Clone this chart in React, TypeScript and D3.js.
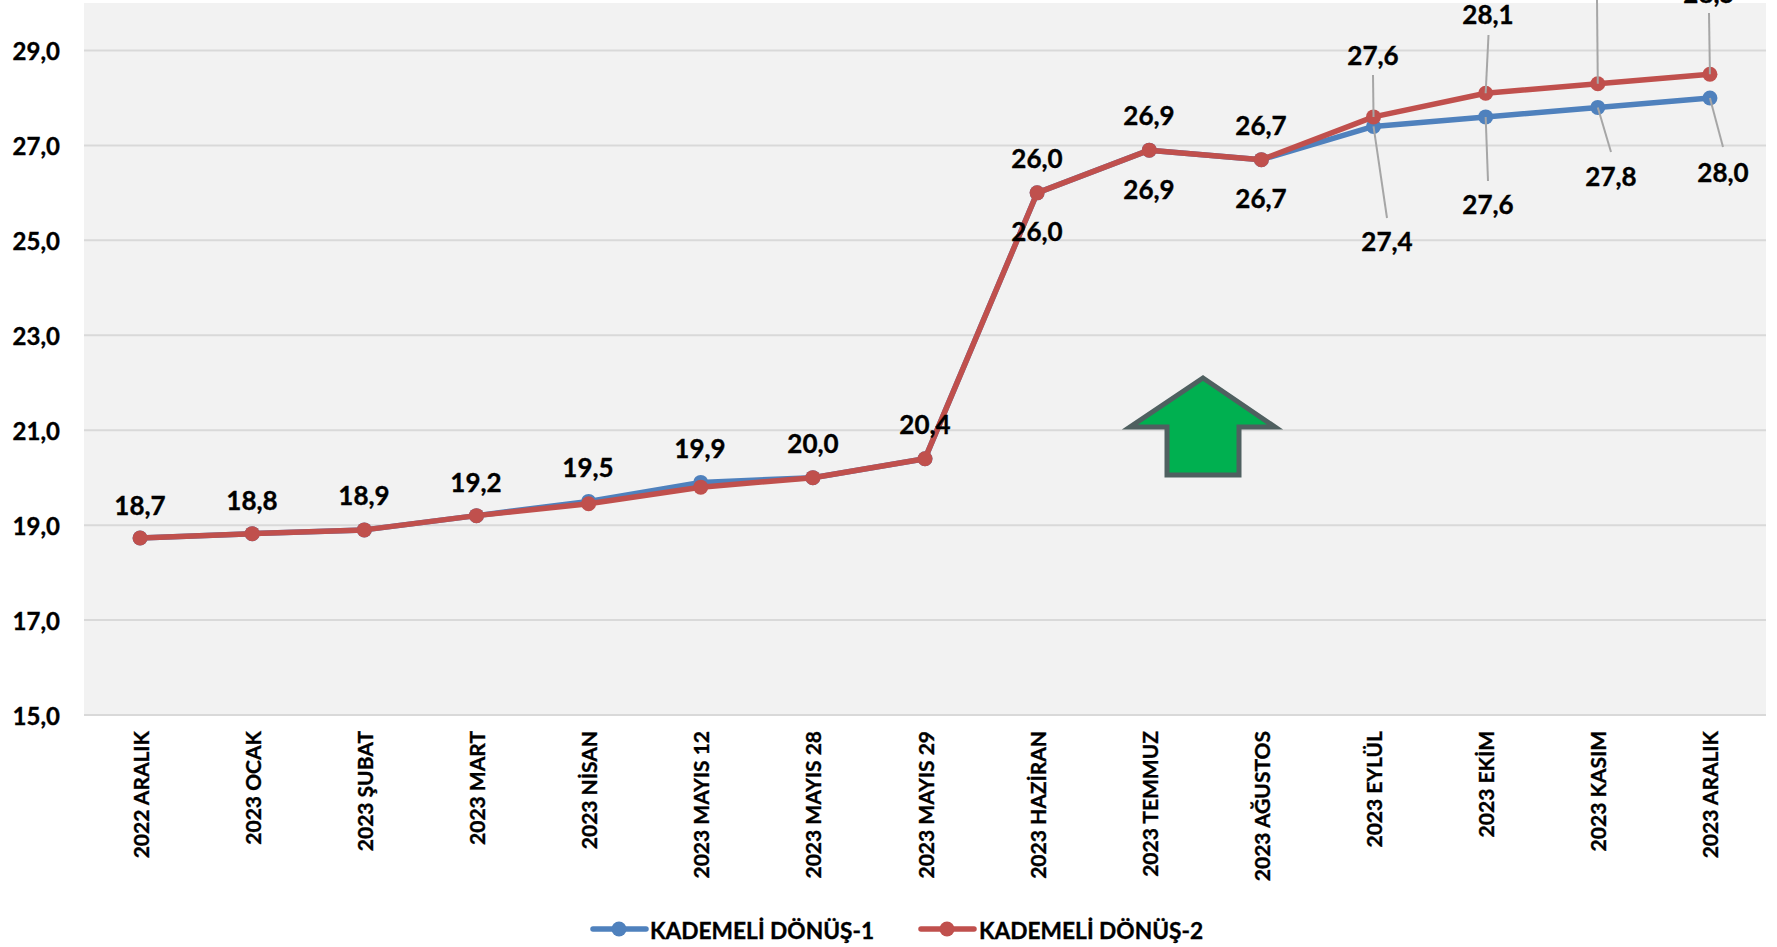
import React, { useEffect } from "react";
import * as d3 from "d3";

const categories = ["2022 ARALIK","2023 OCAK","2023 ŞUBAT","2023 MART","2023 NİSAN","2023 MAYIS 12","2023 MAYIS 28","2023 MAYIS 29","2023 HAZİRAN","2023 TEMMUZ","2023 AĞUSTOS","2023 EYLÜL","2023 EKİM","2023 KASIM","2023 ARALIK"];
const seriesOne = [18.73,18.82,18.9,19.2,19.5,19.9,20.0,20.4,26.0,26.9,26.7,27.4,27.6,27.8,28.0];
const seriesTwo = [18.73,18.82,18.9,19.2,19.45,19.8,20.0,20.4,26.0,26.9,26.7,27.6,28.1,28.3,28.5];
const yTicks = [15,17,19,21,23,25,27,29];
const seriesNames = ["KADEMELİ DÖNÜŞ-1","KADEMELİ DÖNÜŞ-2"];

// label placement: [index, centre x, centre y, leader end x, leader end y]
const oneLabels: number[][] = [
  [0,140,505],[1,252,500],[2,364,495],[3,476,482],[4,588,467],[5,700,448],[6,813,443],[7,925,424],
  [8,1037,231],[9,1149,189],[10,1261,198],
  [11,1387,241,1387,218],[12,1488,204,1488,181],[13,1611,176,1611,152],[14,1723,172,1723,147],
];
const twoLabels: number[][] = [
  [8,1037,158],[9,1149,115],[10,1261,125],
  [11,1373,55,1373,75],[12,1488,14,1488.5,35],[13,1597,-30,1597,0],[14,1709,-7,1709,13],
];

const BLUE = "#4f81bd", RED = "#c0504d", FONT = "Lato, sans-serif";
const plot = { left: 84, right: 1766, top: 3, bottom: 715 };

const x = d3.scaleBand<string>().domain(categories).range([plot.left, plot.right]);
const cx = (i: number) => (x(categories[i]) as number) + x.bandwidth() / 2;
const y = d3.scaleLinear().domain([15, 30]).range([plot.bottom, plot.top]);
const fmt = (v: number) => v.toFixed(1).replace(".", ",");
const line = d3.line<number>().x((_, i) => cx(i)).y((v) => y(v));
const heavy = { stroke: "#000", strokeWidth: 0.35, fontWeight: 700, fontFamily: FONT, fill: "#000" };

function Labels({ items, values }: { items: number[][]; values: number[] }) {
  return (
    <g>
      {items.map(([i, lx, ly, ex, ey]) => (
        <g key={i}>
          {ex !== undefined && (
            <line x1={cx(i)} y1={y(values[i])} x2={ex} y2={ey} stroke="#a6a6a6" strokeWidth={2} />
          )}
          <text x={lx} y={ly} textAnchor="middle" dominantBaseline="central" fontSize={26} {...heavy}>
            {fmt(values[i])}
          </text>
        </g>
      ))}
    </g>
  );
}

function Series({ values, color }: { values: number[]; color: string }) {
  return (
    <g>
      <path d={line(values) as string} fill="none" stroke={color} strokeWidth={5.5} strokeLinejoin="round" strokeLinecap="round" />
      {values.map((v, i) => <circle key={i} cx={cx(i)} cy={y(v)} r={7.5} fill={color} />)}
    </g>
  );
}

function LegendItem({ lx, tx, name, color }: { lx: number; tx: number; name: string; color: string }) {
  return (
    <g>
      <line x1={lx} x2={lx + 53} y1={929} y2={929} stroke={color} strokeWidth={5.5} strokeLinecap="round" />
      <circle cx={lx + 26} cy={929} r={7.5} fill={color} />
      <text x={tx} y={930} dominantBaseline="central" fontSize={22.7} {...heavy}>{name}</text>
    </g>
  );
}

export default function App() {
  useEffect(() => {
    document.body.style.margin = "0";
    document.body.style.overflow = "hidden";
  }, []);
  return (
    <svg width={1777} height={947} style={{ display: "block", position: "absolute", left: 0, top: 0, background: "#fff" }}>
      <rect x={plot.left} y={plot.top} width={plot.right - plot.left} height={plot.bottom - plot.top} fill="#f2f2f2" />
      {yTicks.map((t) => (
        <g key={t}>
          <line x1={plot.left} x2={plot.right} y1={y(t)} y2={y(t)} stroke="#d9d9d9" strokeWidth={2} />
          <text x={60} y={y(t)} textAnchor="end" dominantBaseline="central" fontSize={24} {...heavy}>{fmt(t)}</text>
        </g>
      ))}
      {categories.map((c, i) => (
        <text key={c} transform={`translate(${cx(i)},731) rotate(-90)`} textAnchor="end" dominantBaseline="central" fontSize={21} {...heavy}>{c}</text>
      ))}
      <path d="M1203,378 L1275,427 L1239,427 L1239,475 L1167,475 L1167,427 L1130,427 Z" fill="#00b050" stroke="#4f6060" strokeWidth={5} />
      <Series values={seriesOne} color={BLUE} />
      <Series values={seriesTwo} color={RED} />
      <Labels items={oneLabels} values={seriesOne} />
      <Labels items={twoLabels} values={seriesTwo} />
      <LegendItem lx={593} tx={650} name={seriesNames[0]} color={BLUE} />
      <LegendItem lx={921} tx={979} name={seriesNames[1]} color={RED} />
    </svg>
  );
}
